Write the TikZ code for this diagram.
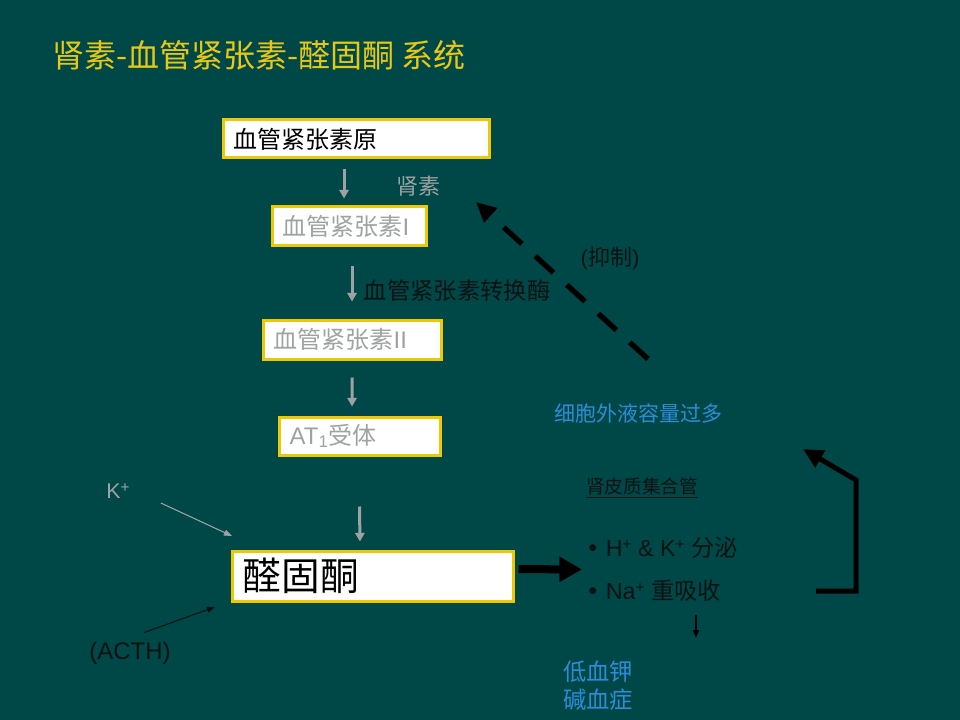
\documentclass[tikz,border=0pt]{standalone}
\usepackage{fontspec}
\setmainfont{Liberation Sans}
\newfontfamily\cjk{Noto Sans CJK SC}
\usetikzlibrary{arrows.meta, calc, positioning}

\definecolor{slidebg}{RGB}{0,72,72}
\definecolor{titleyellow}{RGB}{232,200,20}
\definecolor{boxyellow}{RGB}{240,200,0}
\definecolor{softgray}{RGB}{158,162,162}
\definecolor{labelblue}{RGB}{45,140,215}
\definecolor{darktext}{RGB}{12,18,18}

\newcommand\ionplus{\raisebox{0.3em}{\fontsize{11.5}{12}\selectfont +}}

\begin{document}
\begin{tikzpicture}[
    x=0.75pt, y=-0.75pt,
    >=Stealth,
    box/.style={rectangle, draw=boxyellow, line width=2.25pt, fill=white,
        inner xsep=8pt, inner ysep=0pt, align=left,
        font=\fontsize{18}{20}\selectfont},
    note/.style={inner sep=3pt},
    grayarrow/.style={draw=softgray, line width=2.25pt,
        -{Triangle[length=6.5pt, width=7pt]}},
    thinarrow/.style={line width=0.8pt, -{Triangle[length=6pt, width=4.5pt]}},
    bigarrow/.style={line width=6pt, -{Triangle[length=17pt, width=18pt]}},
    dasharrow/.style={line width=4pt, dash pattern=on 18.5pt off 13.5pt,
        -{Triangle[length=15pt, width=14pt]}},
    looparrow/.style={line width=3.75pt, -{Triangle[length=15pt, width=14pt]}}
]

    % Background -------------------------------------------------

    \fill[slidebg] (0,0) rectangle (960,720);
    \useasboundingbox (0,0) rectangle (960,720);

    % Nodes ------------------------------------------------------

    \node[anchor=west, inner sep=0pt, text=titleyellow,
        font=\cjk\fontsize{24}{28}\selectfont] (title) at (52,55)
        {肾素-血管紧张素-醛固酮 系统};

    \node[box, text width=183.5pt, minimum height=28.5pt] (ago) at (356,139)
        {{\cjk 血管紧张素原}};
    \node[box, text=softgray, text width=99.5pt, minimum height=29.25pt] (ang1) at (349,226.5)
        {{\cjk 血管紧张素}I};
    \node[box, text=softgray, text width=117.5pt, minimum height=29.25pt] (ang2) at (352,339.5)
        {{\cjk 血管紧张素}II};
    \node[box, text=softgray, text width=104.75pt, minimum height=28.5pt] (at1) at (359.5,436)
        {AT\textsubscript{1}{\cjk 受体}};
    \node[box, text=black, text width=194.75pt, minimum height=37.5pt,
        font=\cjk\fontsize{29}{32}\selectfont] (aldo) at (372.5,576) {醛固酮};

    % labels
    \node[note, text=softgray, font=\cjk\fontsize{16.5}{20}\selectfont] (renin) at (418,186) {肾素};
    \node[note, text=darktext, font=\cjk\fontsize{17.5}{20}\selectfont] (ace) at (457,291) {血管紧张素转换酶};
    \node[note, text=darktext, font=\fontsize{16.5}{20}\selectfont] (inhib) at (610,259) {({\cjk 抑制})};
    \node[note, text=labelblue, font=\cjk\fontsize{15.75}{20}\selectfont] (ecf) at (638,413) {细胞外液容量过多};
    \node[note, text=darktext, font=\cjk\fontsize{14}{18}\selectfont] (duct) at (642,488) {\underline{肾皮质集合管}};
    \node[note, anchor=west, align=left, text=darktext,
        font=\fontsize{17.5}{32.25}\selectfont] (tubule) at (584,569.5)
        {{\fontsize{19}{20}\selectfont •}\hspace{6.5pt}H\ionplus{} \& K\ionplus{} {\cjk 分泌}\\
         {\fontsize{19}{20}\selectfont •}\hspace{6.5pt}Na\ionplus{} {\cjk 重吸收}};
    \node[note, text=labelblue, align=left,
        font=\cjk\fontsize{17.5}{21}\selectfont] (hypo) at (598,686) {低血钾\\碱血症};
    \node[note, text=softgray, font=\fontsize{16}{20}\selectfont] (kp) at (118,491) {K\ionplus};
    \node[note, text=darktext, font=\fontsize{18}{22}\selectfont] (acth) at (130,653) {(ACTH)};

    % free ends
    \coordinate (kin) at (232,536);
    \coordinate (acthin) at (215,607);
    \coordinate (lowend) at (696,638);
    \coordinate (inhtip) at (476,202);
    \coordinate (loopstart) at (816,591);
    \coordinate (looptip) at (803,449);

    % Arrows ---------------------------------------------------

    \draw[grayarrow] ([xshift=-9pt, yshift=-7.5pt]ago.south) -- ([xshift=-3.75pt, yshift=5.25pt]ang1.north);
    \draw[grayarrow] ([xshift=2.25pt, yshift=-14.25pt]ang1.south) -- ([yshift=12.75pt]ang2.north);
    \draw[grayarrow] ([yshift=-12.75pt]ang2.south) -- ([xshift=-5.6pt, yshift=6.75pt]at1.north);
    \draw[grayarrow] ([yshift=-37.5pt]at1.south) -- ([xshift=-9.4pt, yshift=6pt]aldo.north);

    \draw[thinarrow, softgray] ([shift={(27,12)}]kp.east) -- (kin);
    \draw[thinarrow, darktext] ([xshift=10.5pt, yshift=3.75pt]acth.north) -- (acthin);

    \draw[bigarrow, black, shorten <=3pt, shorten >=1.5pt] ([yshift=5.25pt]aldo.east) -- (tubule.west);
    \draw[thinarrow, black, line width=1.5pt] ([yshift=-7pt]tubule.south -| lowend) -- (lowend);

    \draw[dasharrow, black] ([shift={(10,-40)}]ecf.north) -- (inhtip);
    \draw[looparrow, black] (loopstart) -- ++(40,0) -- ++(0,-111) -- (looptip);

\end{tikzpicture}
\end{document}
